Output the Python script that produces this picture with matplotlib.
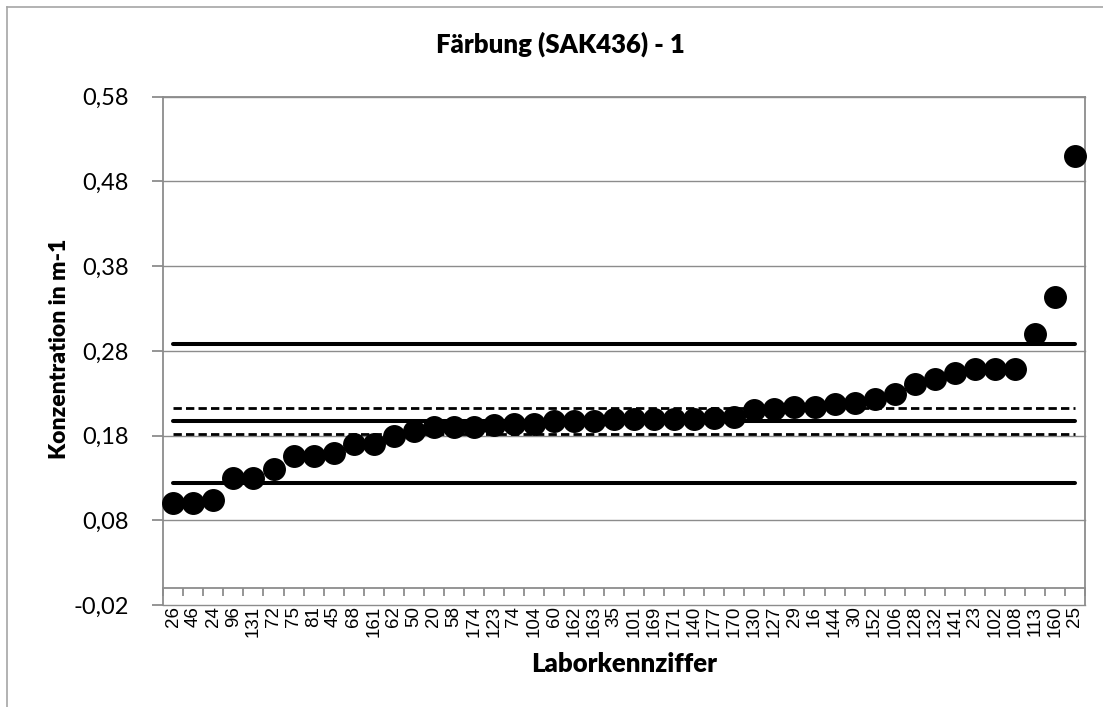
import matplotlib
matplotlib.use("Agg")
import matplotlib.pyplot as plt
import numpy as np
from matplotlib.lines import Line2D

# Laborkennziffern (sortiert nach Messwert)
labore = ['26', '46', '24', '96', '131', '72', '75', '81', '45', '68', '161', '62',
          '50', '20', '58', '174', '123', '74', '104', '60', '162', '163', '35', '101',
          '169', '171', '140', '177', '170', '130', '127', '29', '16', '144', '30', '152',
          '106', '128', '132', '141', '23', '102', '108', '113', '160', '25']

werte = [0.100, 0.100, 0.104, 0.130, 0.130, 0.140, 0.156, 0.156, 0.160, 0.170, 0.170, 0.180,
         0.185, 0.190, 0.190, 0.190, 0.192, 0.194, 0.194, 0.197, 0.197, 0.197, 0.199, 0.200,
         0.199, 0.199, 0.200, 0.201, 0.2025, 0.210, 0.2115, 0.2135, 0.214, 0.2175, 0.219, 0.223,
         0.229, 0.241, 0.247, 0.254, 0.259, 0.259, 0.259, 0.300, 0.343, 0.510]

# Grenzen / Sollwert
obergrenze = 0.288
untergrenze = 0.124
sollwert = 0.197
sollwert_oben = 0.2128
sollwert_unten = 0.182

y_ticks = [-0.02, 0.08, 0.18, 0.28, 0.38, 0.48, 0.58]

W, H = 1103, 707
fig = plt.figure(figsize=(W / 100, H / 100), dpi=100)
ax = fig.add_axes([163.3 / W, 1 - 605 / H, (1085 - 163.3) / W, (605 - 96.7) / H])

x = np.arange(len(labore))
n = len(labore)

# Linien
ax.plot(x, [obergrenze] * n, color='black', lw=2.9, solid_capstyle='round', zorder=3)
ax.plot(x, [untergrenze] * n, color='black', lw=2.9, solid_capstyle='round', zorder=3)
ax.plot(x, [sollwert] * n, color='black', lw=2.9, solid_capstyle='round', zorder=3)
ax.plot(x, [sollwert_oben] * n, color='black', lw=2.0, dashes=(3, 1.5), zorder=3)
ax.plot(x, [sollwert_unten] * n, color='black', lw=2.0, dashes=(3, 1.5), zorder=3)

# Messwerte
ax.plot(x, werte, 'o', color='black', markersize=15.5, zorder=4, clip_on=False)

ax.set_xlim(-0.5, n - 0.5)
ax.set_ylim(-0.02, 0.58)
ax.set_yticks(y_ticks)
ax.set_yticklabels([('%.2f' % v).replace('.', ',') for v in y_ticks],
                   fontfamily='Lato', fontsize=17)
ax.grid(axis='y', color='#8c8c8c', lw=1.0)
for gl in ax.get_ygridlines():
    gl.set_clip_on(False)
ax.set_axisbelow(True)

grau = '#8c8c8c'
for s in ['left', 'right', 'top', 'bottom']:
    ax.spines[s].set_color(grau)
    ax.spines[s].set_linewidth(1.3)
ax.spines['bottom'].set_position(('data', 0))

ax.tick_params(axis='y', direction='out', length=8, width=1.3, color=grau, pad=17)
ax.set_xticks(x)
ax.set_xticklabels(labore, rotation=90, fontfamily='Liberation Sans', fontsize=13.5)
ax.set_xticks(np.arange(-0.5, n, 1), minor=True)
ax.tick_params(axis='x', which='major', length=0, pad=13)
ax.tick_params(axis='x', which='minor', direction='out', length=6, width=1.3, color=grau)
ax.tick_params(axis='y', which='minor', length=0)

# Texte
fig.text(560 / W, 1 - 53 / H, 'Färbung (SAK436) - 1', ha='center', va='baseline',
         fontfamily='Lato', fontweight='heavy', fontsize=18.5)
fig.text(624 / W, 1 - 672 / H, 'Laborkennziffer', ha='center', va='baseline',
         fontfamily='Lato', fontweight='heavy', fontsize=18.5)
fig.text(60 / W, 1 - 349 / H, 'Konzentration in m-1', ha='center', va='center',
         rotation=90, fontfamily='Lato', fontweight='heavy', fontsize=16.5)

# Rahmen des Diagramms
rahmen = '#a6a6a6'
fig.add_artist(Line2D([7 / W, 1], [1 - 7 / H, 1 - 7 / H], color=rahmen, lw=1.2))
fig.add_artist(Line2D([7 / W, 7 / W], [0, 1 - 7 / H], color=rahmen, lw=1.2))

fig.savefig('out.png', dpi=100)
